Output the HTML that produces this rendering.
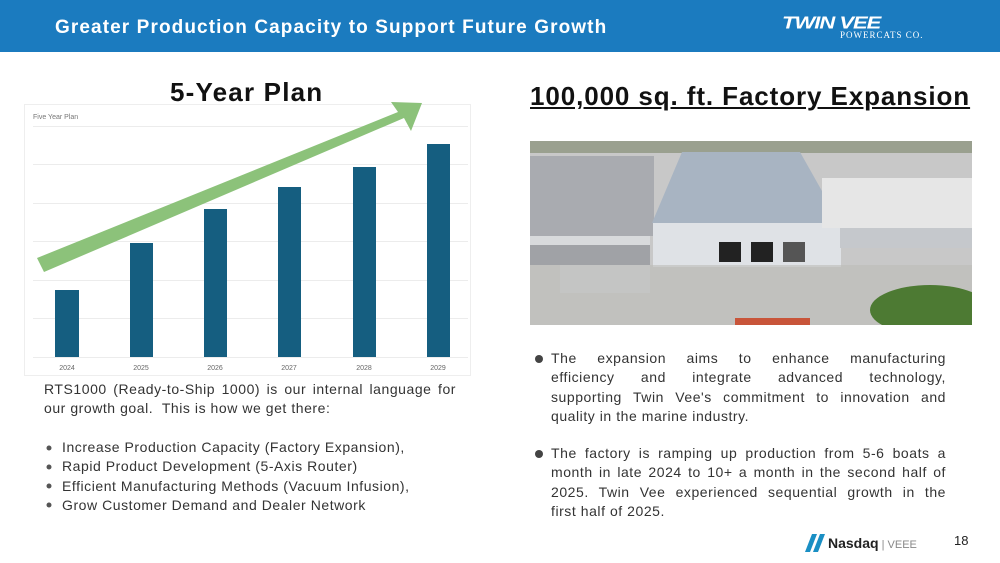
<!DOCTYPE html>
<html><head><meta charset="utf-8"><style>
*{margin:0;padding:0;box-sizing:border-box}
body{width:1000px;height:563px;background:#fff;position:relative;overflow:hidden;font-family:"Liberation Sans",sans-serif;color:#333}
.hdr{position:absolute;left:0;top:0;width:1000px;height:52px;background:#1b7bbf}
.hdr .t{position:absolute;left:55px;top:17px;color:#fff;font-weight:bold;font-size:19px;letter-spacing:1.1px}
.abs{position:absolute}
.txt{font-size:14px;line-height:19.3px;color:#333;letter-spacing:0.55px;white-space:nowrap}
.jl div{text-align:justify;text-align-last:justify;white-space:normal}
.jl div.l{text-align-last:left}
</style></head><body>
<div class="hdr"><div class="t">Greater Production Capacity to Support Future Growth</div>
<div class="abs" style="left:782px;top:10px;color:#fff;font-weight:bold;font-style:italic;font-size:22px;letter-spacing:-1px;transform:scaleY(0.8)">TWIN VEE</div>
<div class="abs" style="left:840px;top:30px;color:#fff;font-family:'Liberation Serif',serif;font-size:9px;letter-spacing:1px">POWERCATS CO.</div>
</div>
<div class="abs" style="left:170px;top:77px;font-size:26px;font-weight:bold;color:#111;letter-spacing:1.2px">5-Year Plan</div>
<div class="abs" style="left:530px;top:81px;font-size:26px;font-weight:bold;color:#111;text-decoration:underline;letter-spacing:0.9px">100,000 sq. ft. Factory Expansion</div>
<svg class="abs" style="left:0;top:0" width="1000" height="563">
<defs><clipPath id="ph"><rect x="530" y="141" width="442" height="184"/></clipPath></defs>
<rect x="24.5" y="104.5" width="446" height="271" fill="#fff" stroke="#eee"/>
<text x="33" y="119" font-size="7" fill="#777" font-family="Liberation Sans">Five Year Plan</text>
<g stroke="#ececec" stroke-width="1">
<line x1="33" x2="468" y1="126.5" y2="126.5"/><line x1="33" x2="468" y1="164.5" y2="164.5"/><line x1="33" x2="468" y1="203.5" y2="203.5"/><line x1="33" x2="468" y1="241.5" y2="241.5"/><line x1="33" x2="468" y1="280.5" y2="280.5"/><line x1="33" x2="468" y1="318.5" y2="318.5"/><line x1="33" x2="468" y1="357.5" y2="357.5"/></g>
<g fill="#155e80">
<rect x="55" y="290" width="24" height="67"/><rect x="130" y="243" width="23" height="114"/><rect x="204" y="209" width="23" height="148"/><rect x="278" y="187" width="23" height="170"/><rect x="353" y="167" width="23" height="190"/><rect x="427" y="144" width="23" height="213"/></g>
<g font-size="7" fill="#666" text-anchor="middle" font-family="Liberation Sans">
<text x="67" y="370">2024</text><text x="141" y="370">2025</text><text x="215" y="370">2026</text><text x="289" y="370">2027</text><text x="364" y="370">2028</text><text x="438" y="370">2029</text></g>
<polygon points="37,258 44,272 404,118 411,131 422,103 391,102 398,112" fill="#8cc27a"/>
<g clip-path="url(#ph)">
<rect x="530" y="141" width="442" height="184" fill="#c8c8c8"/>
<rect x="530" y="141" width="442" height="12" fill="#9aa08f"/>
<rect x="530" y="156" width="124" height="80" fill="#a9abb0"/>
<rect x="530" y="236" width="120" height="20" fill="#d8dadc"/>
<rect x="530" y="245" width="120" height="20" fill="#a0a2a6"/>
<rect x="560" y="265" width="90" height="28" fill="#cfd2d6"/>
<polygon points="682,152 800,152 840,223 652,223" fill="#a8b4c2"/>
<rect x="653" y="223" width="188" height="44" fill="#dfe2e6"/>
<rect x="719" y="242" width="22" height="20" fill="#222"/><rect x="751" y="242" width="22" height="20" fill="#222"/><rect x="783" y="242" width="22" height="20" fill="#555"/>
<rect x="822" y="178" width="150" height="50" fill="#e6e6e6"/>
<rect x="840" y="228" width="132" height="20" fill="#c5c8cc"/>
<rect x="530" y="265" width="442" height="60" fill="#bdbcb8" opacity="0.6"/>
<ellipse cx="930" cy="310" rx="60" ry="25" fill="#4d7a33"/>
<rect x="735" y="318" width="75" height="7" fill="#c8553a"/>
</g>
<circle cx="539" cy="359" r="4" fill="#444"/><circle cx="539" cy="454" r="4" fill="#444"/>
<g fill="#555"><circle cx="49" cy="448" r="2.5"/><circle cx="49" cy="467" r="2.5"/><circle cx="49" cy="486" r="2.5"/><circle cx="49" cy="505" r="2.5"/></g>
<polygon points="805,552 812,534 817,534 810,552" fill="#1a8fc4"/><polygon points="813,552 820,534 825,534 818,552" fill="#1a8fc4"/>
</svg>
<div class="abs txt jl" style="left:44px;top:380px;width:412px"><div>RTS1000 (Ready-to-Ship 1000) is our internal language for</div><div class="l">our growth goal.&nbsp; This is how we get there:</div></div>
<div class="abs txt" style="left:62px;top:438px;width:400px">Increase Production Capacity (Factory Expansion),<br>Rapid Product Development (5-Axis Router)<br>Efficient Manufacturing Methods (Vacuum Infusion),<br>Grow Customer Demand and Dealer Network</div>
<div class="abs txt jl" style="left:551px;top:349px;width:395px"><div>The expansion aims to enhance manufacturing</div><div>efficiency and integrate advanced technology,</div><div>supporting Twin Vee's commitment to innovation and</div><div class="l">quality in the marine industry.</div></div>
<div class="abs txt jl" style="left:551px;top:444px;width:395px"><div>The factory is ramping up production from 5-6 boats a</div><div>month in late 2024 to 10+ a month in the second half of</div><div>2025. Twin Vee experienced sequential growth in the</div><div class="l">first half of 2025.</div></div>
<div class="abs" style="left:828px;top:535px;font-size:14px;font-weight:bold;color:#222">Nasdaq<span style="font-weight:normal;color:#888;font-size:11px"> | VEEE</span></div>
<div class="abs" style="left:954px;top:533px;font-size:13px;color:#222">18</div>
</body></html>
